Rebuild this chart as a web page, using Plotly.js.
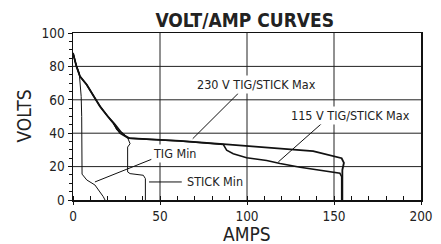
<!DOCTYPE html>
<html>
<head>
<meta charset="utf-8">
<script src="https://cdn.plot.ly/plotly-3.0.1.min.js"></script>
<style>html,body{margin:0;padding:0;background:#fff;}#chart{width:441px;height:244px;}</style>
</head>
<body>
<div id="chart"></div>
<script>
// Data (AMPS, VOLTS)
var max230Amps  = [0, 2, 4, 7.9, 12, 15.5, 20, 23.2, 27, 31.8, 45, 61.5, 86.4, 100, 115, 130.5, 138, 147.7, 152, 154.4, 155.7, 155.3, 154.8, 154.8];
var max230Volts = [88, 80, 74, 69, 62, 56, 50, 46, 40, 37, 36.3, 35.4, 33.4, 32.2, 31.1, 29.9, 29.3, 26.9, 26, 25, 22.3, 20, 18, 0];

var max115Amps  = [0, 2, 4, 7.9, 12, 16, 20.5, 24, 28.5, 32.5, 45, 61.5, 86.4, 88.3, 92.1, 99.8, 111.3, 119, 130.5, 153.4, 154.4, 154.4];
var max115Volts = [88, 80, 74, 69, 62, 55.5, 49.5, 45.5, 39.5, 37, 36.3, 35.4, 33.2, 29.8, 27.7, 25.3, 23.6, 21.8, 19.6, 16, 14, 0];

var stickMinAmps  = [0, 2, 4, 7.9, 12, 15.5, 20, 23.2, 25.1, 28.9, 31.5, 32.8, 31.4, 31.4, 32.8, 40.4, 41.6, 41.6];
var stickMinVolts = [88, 80, 74, 69, 62, 56, 50, 46, 42, 40, 37, 33.7, 31.7, 16.8, 15.8, 14.8, 12.8, 0];

var tigMinAmps  = [0, 1.5, 3.6, 4.7, 5, 5, 5.2, 7.9, 12.6, 17.4, 18.4];
var tigMinVolts = [88, 82, 76, 62, 50, 17, 15.5, 12, 9, 2, 0];

// Curve labels: text, label centre, leader line start/end
var labelTexts = ["230 V TIG/STICK Max", "115 V TIG/STICK Max", "TIG Min", "STICK Min"];
var labelAmps  = [105.6, 159.2, 58.6, 81.4];
var labelVolts = [68.9, 50.9, 27.7, 10.8];
var leaderAmps0  = [68.8, 118, 12.6, 43.7];
var leaderVolts0 = [36.7, 22.8, 10.8, 10.8];
var leaderAmps1  = [95, 143.9, 45.2, 62.5];
var leaderVolts1 = [63.9, 46.7, 24.4, 10.8];

var xGridVals = [50, 100, 150];
var yGridVals = [20, 40, 60, 80];

var FONT = "'DejaVu Sans Condensed', 'Liberation Sans Narrow', sans-serif";

var traces = [
  {x: tigMinAmps, y: tigMinVolts, mode: 'lines', line: {color: '#111', width: 1}},
  {x: stickMinAmps, y: stickMinVolts, mode: 'lines', line: {color: '#111', width: 1}},
  {x: max115Amps, y: max115Volts, mode: 'lines', line: {color: '#111', width: 1.5}},
  {x: max230Amps, y: max230Volts, mode: 'lines', line: {color: '#111', width: 1.8}}
];

var shapes = [], annotations = [];
// grid lines (below data)
xGridVals.forEach(function (v) {
  shapes.push({type: 'line', layer: 'below', xref: 'x', yref: 'paper', x0: v, x1: v, y0: 0, y1: 1, line: {color: '#222', width: 1}});
});
yGridVals.forEach(function (v) {
  shapes.push({type: 'line', layer: 'below', xref: 'paper', yref: 'y', x0: 0, x1: 1, y0: v, y1: v, line: {color: '#222', width: 1}});
});
for (var i = 0; i < labelTexts.length; i++) {
  shapes.push({type: 'line', xref: 'x', yref: 'y', x0: leaderAmps0[i], y0: leaderVolts0[i], x1: leaderAmps1[i], y1: leaderVolts1[i], line: {color: '#111', width: 1}});
  annotations.push({x: labelAmps[i], y: labelVolts[i], xref: 'x', yref: 'y', text: labelTexts[i], showarrow: false,
    bgcolor: '#fff', borderpad: 1, font: {family: FONT, size: 12.5, color: '#222'}});
}
// axis titles
annotations.push({xref: 'paper', yref: 'paper', x: 0.5, y: 0, xanchor: 'center', yanchor: 'top', yshift: -21,
  text: 'AMPS', showarrow: false, font: {family: FONT, size: 19, color: '#222'}});
annotations.push({xref: 'paper', yref: 'paper', x: 0, y: 0.5, xanchor: 'center', yanchor: 'middle', xshift: -50,
  textangle: -90, text: 'VOLTS', showarrow: false, font: {family: FONT, size: 19, color: '#222'}});

var layout = {
  width: 441, height: 244,
  margin: {l: 73, r: 20, t: 33, b: 44, pad: 0},
  paper_bgcolor: '#fff', plot_bgcolor: '#fff',
  showlegend: false,
  font: {family: FONT, size: 14, color: '#222'},
  title: {text: '<b>VOLT/AMP CURVES</b>', x: 0.555, xanchor: 'center', y: 0.915, yanchor: 'middle', font: {family: FONT, size: 19, color: '#222'}},
  xaxis: {
    range: [0, 200], dtick: 50, tick0: 0, fixedrange: true,
    showline: true, mirror: true, linecolor: '#111', linewidth: 1.5,
    showgrid: false, zeroline: false,
    ticks: 'outside', ticklen: 3, tickcolor: '#111',
    minor: {dtick: 10, ticks: 'inside', ticklen: 4, tickcolor: '#111'},
    tickfont: {family: FONT, size: 13.5, color: '#222'},
    automargin: false
  },
  yaxis: {
    range: [0, 100], dtick: 20, tick0: 0, fixedrange: true,
    showline: true, mirror: true, linecolor: '#111', linewidth: 1.5,
    showgrid: false, zeroline: false,
    ticks: 'outside', ticklen: 4, tickcolor: '#111',
    minor: {dtick: 5, ticks: 'outside', ticklen: 3, tickcolor: '#111'},
    tickfont: {family: FONT, size: 13.5, color: '#222'},
    automargin: false
  },
  shapes: shapes,
  annotations: annotations
};

Plotly.newPlot('chart', traces, layout, {staticPlot: true, displayModeBar: false});
</script>
</body>
</html>
